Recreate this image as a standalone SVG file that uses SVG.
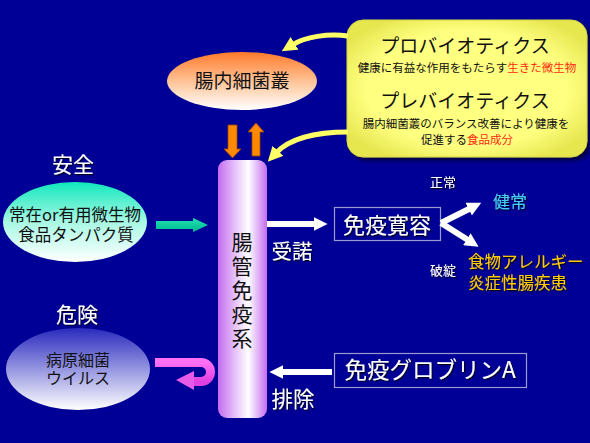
<svg xmlns="http://www.w3.org/2000/svg" width="590" height="443" viewBox="0 0 590 443">
<defs>
<style>
text{font-family:"Noto Sans CJK JP","Noto Sans",sans-serif;text-anchor:middle}
.w{fill:#fff;filter:url(#sh)}
.k{fill:#111}
.wl{stroke:#fff;stroke-width:6;fill:none}
.yl{stroke:#FFFF66;stroke-width:5;fill:none}
</style>
<filter id="sh" x="-20%" y="-20%" width="140%" height="140%"><feDropShadow dx="1.2" dy="1.2" stdDeviation="0.6" flood-color="#000" flood-opacity="0.8"/></filter>
<filter id="bs" x="-10%" y="-10%" width="130%" height="130%"><feDropShadow dx="3" dy="3" stdDeviation="2" flood-color="#000" flood-opacity="0.6"/></filter>
<linearGradient id="gOr" x1="0" y1="0" x2="0" y2="1"><stop offset="0" stop-color="#FF7A2A"/><stop offset="0.55" stop-color="#FFC9A0"/><stop offset="1" stop-color="#FFFFFF"/></linearGradient>
<linearGradient id="gGr" x1="0" y1="0" x2="0" y2="1"><stop offset="0" stop-color="#10E8BC"/><stop offset="0.5" stop-color="#A8F8E4"/><stop offset="1" stop-color="#FFFFFF"/></linearGradient>
<linearGradient id="gBl" x1="0" y1="0" x2="0" y2="1"><stop offset="0" stop-color="#2A2ABE"/><stop offset="0.55" stop-color="#A0A0E4"/><stop offset="1" stop-color="#FFFFFF"/></linearGradient>
<linearGradient id="gPil" x1="0" y1="0" x2="1" y2="0"><stop offset="0" stop-color="#C46CF0"/><stop offset="0.35" stop-color="#E6C2FA"/><stop offset="0.62" stop-color="#FFFFFF"/><stop offset="1" stop-color="#C46CF0"/></linearGradient>
<radialGradient id="gYel" cx="0.5" cy="0.5" r="0.6"><stop offset="0.7" stop-color="#FFFF80"/><stop offset="1" stop-color="#E6E650"/></radialGradient>
<linearGradient id="gPk" x1="0" y1="0" x2="0" y2="1"><stop offset="0" stop-color="#FF70F4"/><stop offset="1" stop-color="#E040E0"/></linearGradient>
<linearGradient id="gGa" x1="0" y1="0" x2="0" y2="1"><stop offset="0" stop-color="#22E0B0"/><stop offset="1" stop-color="#00B890"/></linearGradient>
<marker id="mW" viewBox="0 0 10 10" refX="1" refY="5" markerWidth="14" markerHeight="14" markerUnits="userSpaceOnUse" orient="auto"><path d="M0,0 L10,5 L0,10 z" fill="#fff"/></marker>
<marker id="mY" viewBox="0 0 10 10" refX="2" refY="5" markerWidth="15" markerHeight="15" markerUnits="userSpaceOnUse" orient="auto"><path d="M0,0 L10,5 L0,10 z" fill="#FFFF66"/></marker>
</defs>
<rect width="590" height="443" fill="#000096"/>

<g id="probiotics">
<rect x="347" y="20" width="240" height="137" rx="16" fill="url(#gYel)" stroke="#D8D840" stroke-width="1" filter="url(#bs)"/>
<text x="465" y="53" font-size="19" class="k">プロバイオティクス</text>
<text x="467" y="72" font-size="11.5" class="k">健康に有益な作用をもたらす<tspan fill="#FF2A10">生きた微生物</tspan></text>
<text x="465" y="108" font-size="19" class="k">プレバイオティクス</text>
<text font-size="11.5" class="k"><tspan x="466" y="128">腸内細菌叢のバランス改善により健康を</tspan><tspan x="467" y="144">促進する<tspan fill="#FF2A10">食品成分</tspan></tspan></text>
</g>

<g id="flora">
<ellipse cx="242" cy="81" rx="75" ry="29" fill="url(#gOr)"/>
<text x="242" y="88" font-size="19" class="k">腸内細菌叢</text>
</g>

<g id="gut-immune">
<rect x="218" y="160" width="49" height="258" rx="9" fill="url(#gPil)"/>
<text x="242" y="292" font-size="21" letter-spacing="3" class="k" style="writing-mode:vertical-rl">腸管免疫系</text>
</g>

<g id="safe">
<text x="73" y="172" font-size="21" class="w">安全</text>
<ellipse cx="75" cy="222" rx="72" ry="40" fill="url(#gGr)"/>
<text font-size="16.5" class="k"><tspan x="75" y="221">常在or有用微生物</tspan><tspan x="76" y="241">食品タンパク質</tspan></text>
</g>

<g id="danger">
<text x="77" y="322" font-size="21" class="w">危険</text>
<ellipse cx="78" cy="369" rx="72" ry="41" fill="url(#gBl)"/>
<text font-size="16" class="k"><tspan x="78" y="366">病原細菌</tspan><tspan x="78" y="384">ウイルス</tspan></text>
</g>

<g id="tolerance">
<rect x="334.5" y="207.5" width="106" height="33" fill="#000096" stroke="#9A9AD0" stroke-width="1.2"/>
<text x="387" y="233" font-size="22" class="w">免疫寛容</text>
</g>

<g id="iga">
<rect x="334.5" y="353.5" width="192" height="34" fill="#000096" stroke="#9A9AD0" stroke-width="1.2"/>
<text x="430" y="378" font-size="22.5" class="w">免疫グロブリンA</text>
</g>

<g id="labels">
<text x="292" y="259" font-size="20.5" class="w">受諾</text>
<text x="293" y="407" font-size="21.5" class="w">排除</text>
<text x="443" y="187" font-size="13" class="w">正常</text>
<text x="443" y="275" font-size="13" class="w">破綻</text>
<text x="510" y="208" font-size="17" fill="#44CCF4" filter="url(#sh)">健常</text>
<text font-size="16.5" fill="#FFCC00" filter="url(#sh)" style="text-anchor:start"><tspan x="468" y="268">食物アレルギー</tspan><tspan x="468" y="289">炎症性腸疾患</tspan></text>
</g>

<g id="connectors">
<path class="yl" d="M348,36 C328,33 305,37 292,45" marker-end="url(#mY)"/>
<path class="yl" d="M348,132 C318,132 290,138 276,153" marker-end="url(#mY)"/>
<polygon points="228,125 237,125 237,149 241,149 232.5,158 224,149 228,149" fill="#FF8A00" stroke="#A04800" stroke-width="0.8"/>
<polygon points="252,156 260,156 260,132 264,132 256,123 248,132 252,132" fill="#FF8A00" stroke="#A04800" stroke-width="0.8"/>
<polygon points="156,221 193,221 193,218 208,225 193,232 193,229 156,229" fill="url(#gGa)"/>
<line class="wl" x1="267" y1="224" x2="315" y2="224" marker-end="url(#mW)"/>
<line class="wl" x1="441" y1="223" x2="470" y2="208.5" marker-end="url(#mW)"/>
<line class="wl" x1="441" y1="223" x2="468" y2="240" marker-end="url(#mW)"/>
<line class="wl" x1="332" y1="372" x2="282" y2="372" stroke-width="5" marker-end="url(#mW)"/>
<path d="M155,362.5 H201 A9.5,9.5 0 0 1 201,381.5 H191" stroke="url(#gPk)" stroke-width="9" fill="none"/>
<polygon points="194,371 176,380 194,390" fill="#E85AE8"/>
</g>
</svg>
